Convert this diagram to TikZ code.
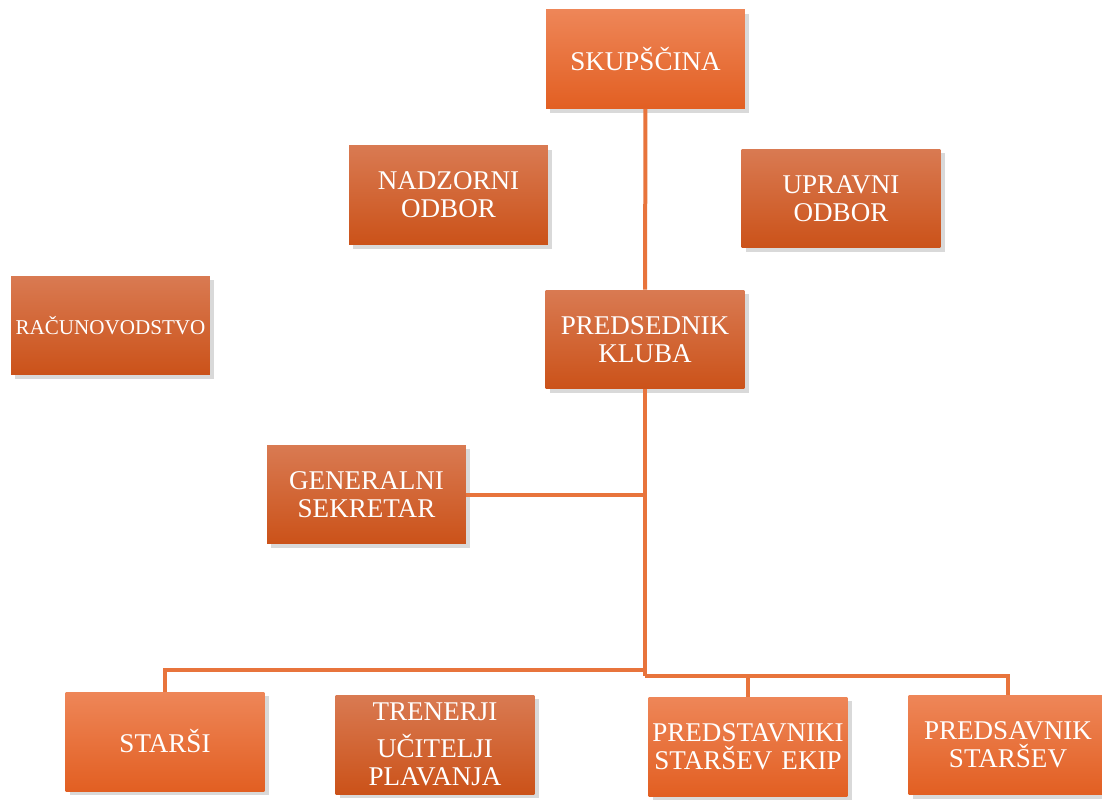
\documentclass[tikz,border=0pt]{standalone}
\usepackage{fontspec}
\setmainfont{Liberation Serif}
\usetikzlibrary{shadows}

\definecolor{linkorange}{HTML}{E8743C}
\definecolor{brighttop}{HTML}{EE8658}
\definecolor{brightbot}{HTML}{E25F22}
\definecolor{darktop}{HTML}{D97A52}
\definecolor{darkbot}{HTML}{CB5219}

\tikzset{
  orgbox/.style={rectangle, minimum width=3.98cm, minimum height=1.98cm,
    text width=3.96cm, align=center, inner sep=0pt, text=white,
    font=\fontsize{15.4}{16}\selectfont,
    drop shadow={shadow xshift=2.5pt, shadow yshift=-2.5pt, opacity=0.3}},
  brightbox/.style={orgbox, top color=brighttop, bottom color=brightbot},
  darkbox/.style={orgbox, top color=darktop, bottom color=darkbot},
  link/.style={draw=linkorange, line width=0.08cm}
}

\begin{document}
\begin{tikzpicture}[x=0.02cm,y=-0.02cm]
    \useasboundingbox (0,0) rectangle (1102,805);
    % upper part
    \node[brightbox] (skup) at (645.5,59) {SKUPŠČINA};
    \node[darkbox] (nadzor) at (448.5,195) {NADZORNI\\ODBOR};
    \node[darkbox] (uprava) at (841,198.5) {UPRAVNI\\ODBOR};
    \node[darkbox,font=\fontsize{12}{14}\selectfont] (racun) at (110.5,325.5) {RAČUNOVODSTVO};
    \node[darkbox] (pred) at (645,339.5) {PREDSEDNIK\\KLUBA};
    \node[darkbox] (gen) at (366.5,494.5) {GENERALNI\\SEKRETAR};
    % lower row
    \node[brightbox] (starsi) at (165,741.5) {STARŠI};
    \node[darkbox] (trener) at (435,744.5) {TRENERJI\\[5pt]UČITELJI\\PLAVANJA};
    \node[brightbox] (predstav) at (748,746.5) {PREDSTAVNIKI\\STARŠEV EKIP};
    \node[brightbox] (predsav) at (1008,745) {PREDSAVNIK\\STARŠEV};
    \coordinate (joinL) at (645,670);
    \coordinate (joinR) at (645,676);
    % connectors
    \draw[link] (skup) -- (pred);
    \draw[link] (pred) -- (joinR);
    \draw[link] (gen.east) -- (gen.east -| pred.south);
    \draw[link] (joinL) -| (starsi);
    \draw[link] (joinR) -| (predstav);
    \draw[link] (joinR) -| (predsav);
\end{tikzpicture}
\end{document}
